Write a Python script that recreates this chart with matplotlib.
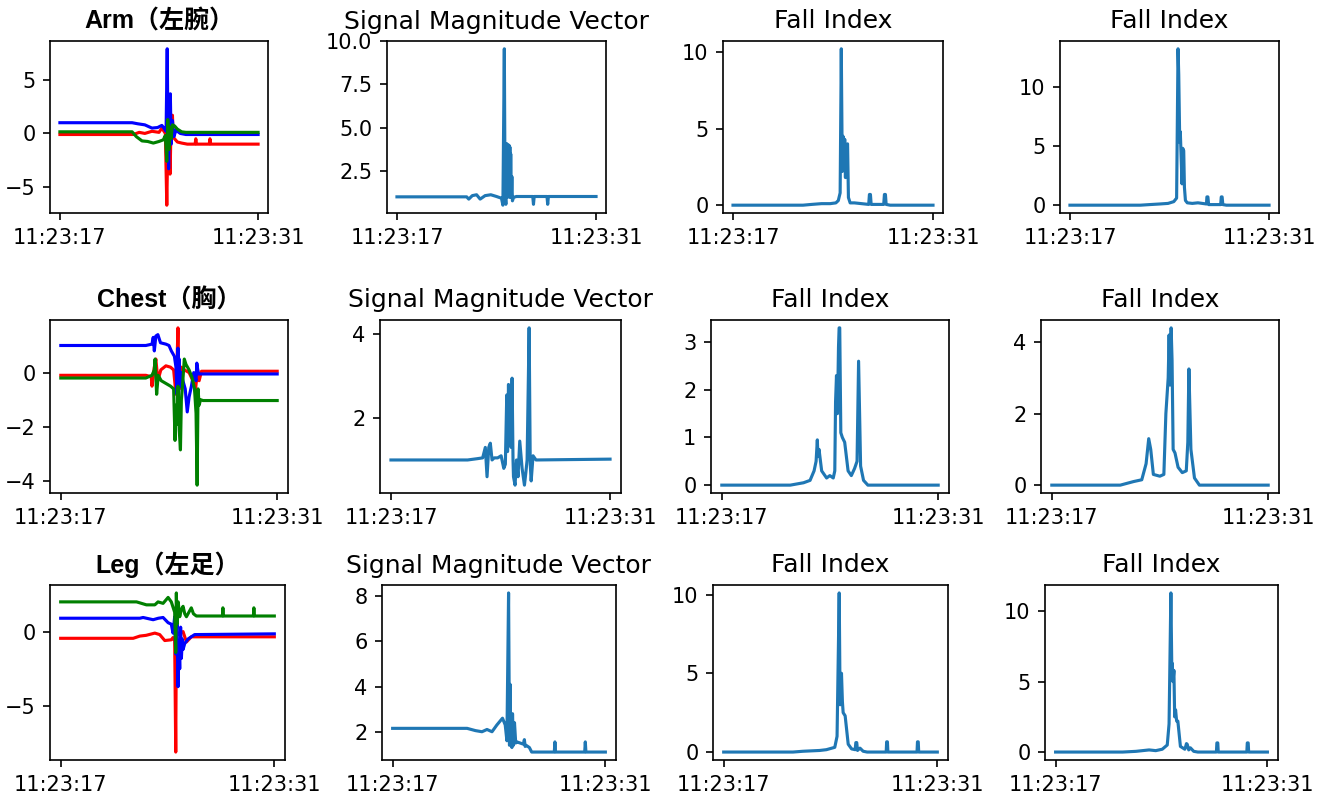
import matplotlib
matplotlib.use("Agg")
import matplotlib.pyplot as plt

# ==============================================
# DADOS (tempo em segundos a partir de 11:23:17)
# ==============================================
x_ticks = [0, 14]
x_tick_labels = ["11:23:17", "11:23:31"]

row_titles = ["Arm（左腕）", "Chest（胸）", "Leg（左足）"]
smv_title = "Signal Magnitude Vector"
fi_title = "Fall Index"

# ---------- Arm ----------
arm_t_x = [0, 5.2, 5.6, 6.0, 6.5, 7.0, 7.2, 7.3, 7.45, 7.55, 7.62, 7.7, 7.78, 7.85, 7.95, 8.0, 8.1, 8.3, 8.6, 9.0,
           9.55, 9.6, 9.65, 10.55, 10.6, 10.65, 14]
arm_x = [-0.1, -0.1, 0.1, 0.0, 0.2, 0.1, 0.5, 0.3, 0.0, -6.7, -1.0, 0.8, -3.8, 0.5, 1.7, -0.3, -0.5, -0.8, -0.9, -1.0,
         -1.0, -0.5, -1.0, -1.0, -0.5, -1.0, -1.0]
arm_t_y = [0, 5.1, 5.5, 6.0, 6.5, 6.9, 7.2, 7.35, 7.5, 7.58, 7.62, 7.68, 7.73, 7.8, 7.86, 7.95, 8.05, 8.2, 8.5, 8.9, 14]
arm_y = [1.0, 1.0, 0.9, 0.8, 0.5, 0.55, 0.75, 0.5, 0.2, 7.9, 2.0, -3.3, 1.0, 3.7, -1.0, 1.2, -0.3, 0.3, 0.0, -0.1, -0.1]
arm_t_z = [0, 5.1, 5.4, 5.8, 6.2, 6.6, 7.0, 7.3, 7.45, 7.55, 7.62, 7.7, 7.78, 7.85, 7.95, 8.1, 8.3, 8.6, 8.9, 14]
arm_z = [0.15, 0.15, -0.3, -0.7, -0.75, -0.9, -0.75, -0.6, -0.2, -2.6, 1.3, -1.5, 0.6, -0.5, 0.8, 0.7, 0.4, 0.15, 0.1, 0.1]

arm_t_smv = [0, 4.9, 5.05, 5.3, 5.6, 5.85, 6.2, 6.6, 7.0, 7.35, 7.45, 7.55, 7.6, 7.66, 7.70, 7.73, 7.76, 7.79, 7.82,
             7.85, 7.88, 7.91, 7.94, 7.97, 8.0, 8.04, 8.08, 8.12, 8.2, 8.4, 9.55, 9.6, 9.65, 10.55, 10.6, 10.65, 14]
arm_smv = [1.03, 1.03, 0.9, 1.1, 1.15, 0.9, 1.1, 1.15, 1.05, 0.95, 0.55, 9.55, 1.5, 0.6, 4.1, 1.0, 4.05, 1.2, 4.0,
           1.5, 4.0, 1.0, 3.9, 1.4, 3.5, 1.0, 2.2, 0.8, 1.0, 1.05, 1.05, 0.6, 1.05, 1.05, 0.6, 1.05, 1.05]

arm_t_fi1 = [0, 4.9, 5.5, 6.2, 6.8, 7.2, 7.37, 7.5, 7.58, 7.65, 7.7, 7.77, 7.82, 7.87, 7.93, 8.02, 8.08, 8.2, 8.5,
             9.0, 9.5, 9.55, 9.62, 9.67, 10.55, 10.6, 10.67, 10.72, 11, 14]
arm_fi1 = [0, 0, 0.05, 0.1, 0.1, 0.15, 0.3, 0.8, 10.2, 2.2, 4.5, 2.5, 4.3, 1.8, 3.8, 4.0, 0.5, 0.15, 0.15,
           0.1, 0.05, 0.7, 0.7, 0.05, 0.05, 0.7, 0.7, 0.05, 0, 0]
arm_t_fi2 = [0, 4.95, 5.6, 6.3, 6.9, 7.3, 7.5, 7.6, 7.65, 7.72, 7.76, 7.82, 7.88, 7.93, 8.0, 8.05, 8.12, 8.25, 8.6,
             9.0, 9.6, 9.63, 9.7, 9.75, 10.6, 10.64, 10.7, 10.75, 11, 14]
arm_fi2 = [0, 0, 0.05, 0.1, 0.15, 0.3, 0.6, 13.2, 11.0, 5.3, 6.2, 4.0, 1.8, 4.8, 4.6, 1.5, 0.4, 0.2, 0.15,
           0.2, 0.1, 0.7, 0.7, 0.05, 0.05, 0.7, 0.7, 0.05, 0, 0]

# ---------- Chest ----------
chest_t_x = [0, 5.5, 5.85, 5.9, 6.05, 6.15, 6.28, 6.47, 6.8, 7.1, 7.3, 7.45, 7.5, 7.58, 7.62, 7.68, 7.8, 8.0, 8.3,
             8.55, 8.7, 8.85, 8.95, 9.1, 14]
chest_x = [-0.1, -0.1, -0.15, -0.5, 0.2, 0.5, -0.3, 0.1, 0.25, 0.2, 0.1, -0.8, 0.0, 1.65, 0.3, -0.6, 0.2, 0.1, 0.0,
           -0.3, -0.7, 0.1, -0.3, 0.05, 0.05]
chest_t_y = [0, 5.5, 5.9, 5.98, 6.05, 6.15, 6.28, 6.45, 6.8, 7.0, 7.15, 7.35, 7.45, 7.52, 7.58, 7.62, 7.66, 7.72, 7.8,
             7.9, 8.05, 8.18, 8.3, 8.45, 8.6, 8.75, 8.8, 8.9, 9.0, 14]
chest_y = [1.0, 1.0, 1.05, 1.3, 0.8, 1.35, 1.4, 1.1, 1.05, 1.0, 0.8, 0.6, 0.2, -0.8, 0.9, -1.1, 0.5, -0.5, 0.0,
           -0.3, -0.6, -1.45, -0.9, -0.5, 0.0, -0.3, 0.35, -0.05, -0.05, -0.05]
chest_t_z = [0, 5.5, 5.9, 6.05, 6.1, 6.2, 6.3, 6.5, 6.8, 7.1, 7.3, 7.39, 7.45, 7.52, 7.58, 7.66, 7.74, 7.8, 7.86,
             7.99, 8.1, 8.3, 8.5, 8.65, 8.75, 8.82, 8.88, 8.95, 9.04, 9.2, 14]
chest_z = [-0.2, -0.2, -0.1, 0.1, 0.5, -0.8, -0.1, -0.3, -0.4, -0.5, -0.6, -2.5, -1.2, -1.9, -0.5, -2.1, -2.85, -1.0,
           -0.6, 0.5, 0.3, 0.1, -0.2, -0.6, -1.5, -4.15, -0.6, -1.2, -1.0, -1.03, -1.03]

chest_t_smv = [0, 4.9, 5.5, 5.86, 6.03, 6.14, 6.25, 6.35, 6.46, 6.6, 6.82, 7.04, 7.21, 7.31, 7.4, 7.45, 7.51, 7.57,
               7.63, 7.68, 7.74, 7.8, 7.83, 7.93, 8.02, 8.12, 8.23, 8.38, 8.53, 8.62, 8.7, 8.83, 8.9, 8.96, 9.08,
               9.27, 14]
chest_smv = [1.0, 1.0, 1.03, 1.05, 1.3, 0.6, 1.3, 1.4, 1.0, 1.05, 1.05, 1.1, 0.8, 0.9, 2.55, 1.2, 2.8, 1.4,
             2.7, 1.3, 2.95, 1.0, 0.6, 0.4, 1.0, 0.6, 1.45, 0.8, 0.4, 0.7, 1.0, 4.15, 0.9, 0.5, 1.1,
             1.0, 1.02]

chest_t_fi1 = [0, 4.43, 5.29, 5.71, 5.97, 6.1, 6.18, 6.22, 6.29, 6.46, 6.78, 6.99, 7.21, 7.31, 7.36, 7.42, 7.48,
               7.55, 7.59, 7.63, 7.7, 7.8, 7.95, 8.17, 8.38, 8.59, 8.75, 8.85, 8.98, 9.17, 9.45, 14]
chest_fi1 = [0, 0, 0.05, 0.1, 0.3, 0.5, 0.95, 0.6, 0.75, 0.3, 0.15, 0.2, 0.15, 0.3, 1.75, 2.3, 1.5,
             2.9, 3.3, 3.3, 1.1, 1.0, 0.9, 0.3, 0.2, 0.35, 0.5, 2.6, 0.4, 0.1, 0, 0]
chest_t_fi2 = [0, 4.43, 5.29, 5.82, 6.1, 6.27, 6.4, 6.57, 6.99, 7.25, 7.38, 7.53, 7.59, 7.65, 7.72, 7.78, 7.85,
               7.97, 8.17, 8.44, 8.7, 8.8, 8.87, 9.0, 9.23, 9.55, 14]
chest_fi2 = [0, 0, 0.1, 0.15, 0.6, 1.3, 1.0, 0.3, 0.25, 0.3, 2.0, 3.0, 4.2, 2.8, 4.4, 3.5, 1.0,
             0.9, 0.5, 0.35, 0.4, 1.2, 3.25, 1.0, 0.2, 0, 0]

# ---------- Leg ----------
leg_t_x = [0, 4.75, 5.19, 5.6, 6.17, 6.49, 6.82, 7.25, 7.36, 7.47, 7.54, 7.58, 7.7, 8.02, 8.24, 8.56, 14]
leg_x = [-0.45, -0.45, -0.3, -0.25, -0.1, -0.2, -0.6, -0.55, -0.4, -0.6, -8.1, 0.1, -0.2, 0.0, -0.7, -0.35, -0.35]
leg_t_y = [0, 5.19, 5.4, 6.06, 6.4, 6.71, 7.04, 7.25, 7.36, 7.47, 7.54, 7.62, 7.69, 7.75, 7.8, 7.86, 7.91, 7.97,
           8.02, 8.13, 8.34, 8.78, 14]
leg_y = [0.9, 0.9, 0.95, 0.8, 0.9, 0.95, 0.6, 0.5, -0.1, 1.0, -1.5, 0.5, -3.7, -1.0, -2.5, 0.3, -1.8, -0.5,
         -1.2, -0.8, -0.5, -0.2, -0.15]
leg_t_z = [0, 4.97, 5.62, 6.17, 6.38, 6.71, 7.04, 7.25, 7.47, 7.54, 7.58, 7.62, 7.7, 7.8, 7.91, 8.02, 8.13, 8.24,
           8.4, 8.56, 8.7, 8.89, 10.6, 10.63, 10.66, 12.63, 12.66, 12.69, 14]
leg_z = [2.0, 2.0, 1.8, 1.8, 2.0, 1.9, 2.3, 2.0, 1.3, -1.4, 2.6, 0.5, 2.0, 1.0, 1.5, 1.7, 1.2, 1.0,
         1.3, 1.6, 1.2, 1.05, 1.05, 1.6, 1.05, 1.05, 1.6, 1.05, 1.05]

leg_t_smv = [0, 4.9, 5.45, 5.88, 6.21, 6.54, 6.86, 7.23, 7.41, 7.52, 7.63, 7.69, 7.73, 7.77, 7.8, 7.85, 7.89, 7.95,
             8.02, 8.1, 8.17, 8.39, 8.6, 8.67, 8.72, 8.78, 9.0, 9.15, 10.64, 10.68, 10.72, 12.64, 12.68, 12.72, 14]
leg_smv = [2.15, 2.15, 2.05, 2.0, 2.1, 2.0, 2.3, 2.6, 2.3, 1.6, 8.15, 1.4, 4.1, 1.5, 2.0, 1.3, 2.8, 1.4,
           2.4, 1.5, 1.55, 1.5, 1.45, 1.65, 1.35, 1.4, 1.3, 1.1, 1.1, 1.55, 1.1, 1.1, 1.55, 1.1, 1.1]

leg_t_fi1 = [0, 4.54, 5.2, 6.29, 6.73, 7.28, 7.43, 7.57, 7.63, 7.72, 7.78, 7.83, 7.96, 8.16, 8.38, 8.62, 8.66,
             8.72, 8.77, 8.93, 9.14, 9.4, 10.65, 10.68, 10.73, 10.76, 12.67, 12.7, 12.75, 12.78, 14]
leg_fi1 = [0, 0, 0.05, 0.1, 0.15, 0.3, 1.0, 10.1, 3.0, 5.0, 3.2, 2.5, 2.3, 0.5, 0.2, 0.15, 0.6,
           0.6, 0.1, 0.25, 0.05, 0, 0, 0.65, 0.65, 0, 0, 0.65, 0.65, 0, 0]
leg_t_fi2 = [0, 4.43, 5.31, 6.18, 6.62, 7.05, 7.38, 7.5, 7.62, 7.68, 7.71, 7.76, 7.82, 7.87, 7.93, 8.0, 8.08, 8.25,
             8.54, 8.6, 8.65, 8.7, 8.8, 8.91, 9.13, 9.4, 10.63, 10.66, 10.72, 10.75, 12.64, 12.67, 12.73, 12.76, 14]
leg_fi2 = [0, 0, 0.05, 0.15, 0.1, 0.2, 0.5, 2.0, 11.3, 6.0, 6.3, 5.0, 5.8, 2.5, 3.0, 2.2, 2.2, 0.4,
           0.2, 0.4, 0.6, 0.55, 0.15, 0.3, 0.05, 0, 0, 0.65, 0.65, 0, 0, 0.65, 0.65, 0, 0]

# marcas do eixo y de cada painel
arm_yticks = [[-5, 0, 5], [2.5, 5.0, 7.5, 10.0], [0, 5, 10], [0, 5, 10]]
chest_yticks = [[-4, -2, 0], [2, 4], [0, 1, 2, 3], [0, 2, 4]]
leg_yticks = [[-5, 0], [2, 4, 6, 8], [0, 5, 10], [0, 5, 10]]

# ==============================================
# FIGURA
# ==============================================
W, H = 1330, 794
fig = plt.figure(figsize=(W / 150, H / 150), dpi=150)

# caixas dos eixos em pixels: (esquerda, topo, direita, base)
boxes = [
    [(50, 41, 268, 213), (387, 41, 606, 213), (723, 41, 943, 213), (1060, 41, 1279, 213)],
    [(50, 320, 288, 493), (380, 320, 621, 493), (711, 320, 949, 493), (1041, 320, 1279, 493)],
    [(50, 585, 285, 760), (382, 585, 616, 760), (713, 585, 948, 760), (1045, 585, 1278, 760)],
]


def make_ax(box):
    l, t, r, b = box
    return fig.add_axes([l / W, 1 - b / H, (r - l) / W, (b - t) / H])


rows = [
    (arm_t_x, arm_x, arm_t_y, arm_y, arm_t_z, arm_z, arm_t_smv, arm_smv,
     arm_t_fi1, arm_fi1, arm_t_fi2, arm_fi2, arm_yticks),
    (chest_t_x, chest_x, chest_t_y, chest_y, chest_t_z, chest_z, chest_t_smv, chest_smv,
     chest_t_fi1, chest_fi1, chest_t_fi2, chest_fi2, chest_yticks),
    (leg_t_x, leg_x, leg_t_y, leg_y, leg_t_z, leg_z, leg_t_smv, leg_smv,
     leg_t_fi1, leg_fi1, leg_t_fi2, leg_fi2, leg_yticks),
]

for i, (tx, ax_, ty, ay_, tz, az_, ts, smv, tf1, fi1, tf2, fi2, yt) in enumerate(rows):
    axes = [make_ax(b) for b in boxes[i]]

    # aceleração nos três eixos
    axes[0].plot(tx, ax_, color="r", lw=1.5)
    axes[0].plot(ty, ay_, color="b", lw=1.5)
    axes[0].plot(tz, az_, color="g", lw=1.5)
    axes[0].set_title(row_titles[i], fontsize=12, fontweight="bold",
                      family=["Liberation Sans", "Noto Sans CJK SC"])

    axes[1].plot(ts, smv, color="tab:blue", lw=1.5)
    axes[1].set_title(smv_title, fontsize=12)
    axes[2].plot(tf1, fi1, color="tab:blue", lw=1.5)
    axes[2].set_title(fi_title, fontsize=12)
    axes[3].plot(tf2, fi2, color="tab:blue", lw=1.5)
    axes[3].set_title(fi_title, fontsize=12)

    for a, ticks in zip(axes, yt):
        a.set_xticks(x_ticks)
        a.set_xticklabels(x_tick_labels, fontsize=10)
        a.set_yticks(ticks)
        a.tick_params(axis="y", labelsize=10)

fig.savefig("out.png", dpi=150)
